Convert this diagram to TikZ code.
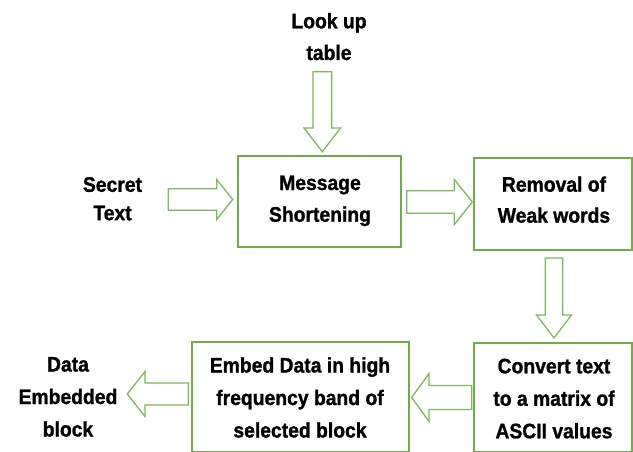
\documentclass[tikz,border=0pt]{standalone}
\usepackage{fontspec}
\setmainfont{Liberation Sans}[FakeStretch=0.92, BoldFeatures={FakeBold=1.2}]
\usetikzlibrary{calc}
\definecolor{boxgreen}{RGB}{112,173,71}
\definecolor{arrgreen}{RGB}{125,185,88}
\newcommand\tst{\rule[-5pt]{0pt}{22pt}}
\newcommand\blockarrow[5]{%
  \coordinate (ba-h) at ($(#2)!#5!(#1)$);
  \draw[arrowline] ($(#1)!#3!90:(#2)$) -- ($(ba-h)!#3!-90:(#1)$) -- ($(ba-h)!#4!-90:(#1)$)
    -- (#2) -- ($(ba-h)!#4!90:(#1)$) -- ($(ba-h)!#3!90:(#1)$) -- ($(#1)!#3!-90:(#2)$) -- cycle;
}
\tikzset{
  boxnode/.style={draw=boxgreen, line width=1.8pt, inner sep=0pt, rectangle},
  arrowline/.style={draw=arrgreen, line width=1.3pt},
  txt/.style={align=center, inner sep=0pt, text=black},
}
\newcommand\tfont[1]{\bfseries\fontsize{21}{#1}\selectfont}
\begin{document}
\begin{tikzpicture}[x=1pt,y=-1pt]
\clip (0,0) rectangle (633,452);
% boxes
\node[boxnode, minimum width=163pt, minimum height=91.3pt] (msgbox) at (319.2,201.65) {};
\node[boxnode, minimum width=157.7pt, minimum height=92pt] (rembox) at (553.15,204) {};
\node[boxnode, minimum width=157.7pt, minimum height=108.5pt] (cvtbox) at (553.15,397.25) {};
\node[boxnode, minimum width=217.3pt, minimum height=109.5pt] (embbox) at (300.35,396.75) {};
% texts
\node[txt, font=\tfont{31.7}] (lut) at (329,38.15) {\tst Look up\\\tst table};
\node[txt, font=\tfont{28.4}] (sec) at (112.5,200) {\tst Secret\\\tst Text};
\node[txt, font=\tfont{31.7}] (msg) at (320,199.85) {\tst Message\\\tst Shortening};
\node[txt, font=\tfont{31}] (rem) at (554,201.2) {\tst Removal of\\\tst Weak words};
\node[txt, font=\tfont{32.5}] (cvt) at (554,399.8) {\tst Convert text\\\tst to a matrix of\\\tst ASCII values};
\node[txt, font=\tfont{32.5}] (emb) at (300,399) {\tst Embed Data in high\\\tst frequency band of\\\tst selected block};
\node[txt, font=\tfont{32.5}] (dat) at (68,398) {\tst Data\\\tst Embedded\\\tst block};
% arrow end points
\coordinate (a1s) at (322.3,71.7);  \coordinate (a1e) at (322.3,151.7);
\coordinate (a2s) at (168.3,199.5); \coordinate (a2e) at (232.7,199.5);
\coordinate (a3s) at (406.7,202);   \coordinate (a3e) at (472.3,202);
\coordinate (a4s) at (554,258);     \coordinate (a4e) at (554,338);
\coordinate (a5s) at (471.7,397.5); \coordinate (a5e) at (411.7,397.5);
\coordinate (a6s) at (188.3,394);   \coordinate (a6e) at (127.3,394);
% block arrows
\blockarrow{a1s}{a1e}{9.3pt}{18.3pt}{23.7pt}
\blockarrow{a2s}{a2e}{10.8pt}{20pt}{16pt}
\blockarrow{a3s}{a3e}{11.3pt}{22.5pt}{18pt}
\blockarrow{a4s}{a4e}{8.8pt}{17.5pt}{23pt}
\blockarrow{a5s}{a5e}{12pt}{24pt}{17.3pt}
\blockarrow{a6s}{a6e}{11pt}{22.5pt}{17.7pt}
\end{tikzpicture}
\end{document}
